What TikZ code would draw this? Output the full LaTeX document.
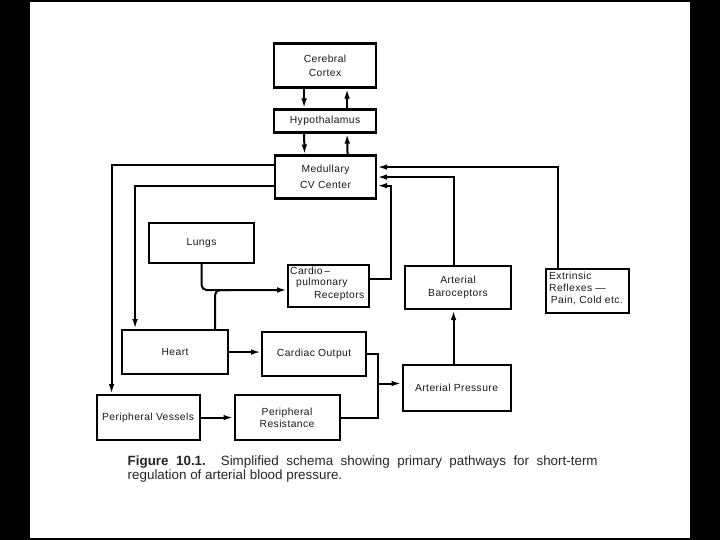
\documentclass[tikz,border=0pt]{standalone}
\usepackage{fontspec}
\setmainfont{Liberation Sans}
\newfontfamily\boxfont[LetterSpace=4]{Liberation Sans}
\usetikzlibrary{arrows.meta}
\begin{document}
\begin{tikzpicture}[x=1pt,y=-1pt,
  box/.style={draw, line width=2.1pt, inner sep=0pt, anchor=north west,
    font=\boxfont\fontsize{10.3}{14}\selectfont, align=center, text=black!90},
  lbl/.style={inner sep=0pt, font=\boxfont\fontsize{10.3}{12}\selectfont, text=black!90},
  conn/.style={line width=2pt},
  arr/.style={conn, -{Latex[length=10pt,width=5.6pt]}},
  captext/.style={inner sep=0pt, anchor=base west, font=\fontsize{13.4}{14}\selectfont, text=black!85}
]
\fill[black] (0,0) rectangle (720,540);
\fill[white] (30,2) rectangle (690,538);
\useasboundingbox (0,0) rectangle (720,540);

% boxes
\node[box, minimum width=102pt, minimum height=44pt] (cortex) at (273,42.5) {Cerebral\\Cortex};
\node[box, minimum width=102pt, minimum height=23pt] (hypo) at (273,108.5) {Hypothalamus};
\node[box, minimum width=101pt, minimum height=43pt] (med) at (274,154.5) {Medullary\\[2pt]CV Center};
\node[box, minimum width=105pt, minimum height=40pt] (lungs) at (148,222) {Lungs};
\node[box, minimum width=81pt, minimum height=42pt] (cardio) at (287,263.5) {};
\node[box, minimum width=106pt, minimum height=43pt] (baro) at (404,265) {Arterial\\[-0.6pt]Baroceptors};
\node[box, minimum width=83pt, minimum height=44pt] (extr) at (545,267.5) {};
\node[box, minimum width=106pt, minimum height=44pt] (heart) at (121,329) {Heart};
\node[box, minimum width=104pt, minimum height=44pt] (co) at (261,330.5) {Cardiac Output};
\node[box, minimum width=108pt, minimum height=46pt] (ap) at (401.5,364) {Arterial Pressure};
\node[box, minimum width=103pt, minimum height=45pt] (pv) at (95.5,394) {Peripheral Vessels};
\node[box, minimum width=105pt, minimum height=45pt, font=\boxfont\fontsize{10.3}{12}\selectfont] (pr) at (233.5,394) {Peripheral\\Resistance};

% staggered labels
\node[lbl, anchor=west] (cp1) at (290,270.7) {Cardio\,–};
\node[lbl, anchor=west] (cp2) at (296,282.7) {pulmonary};
\node[lbl, anchor=east] (cp3) at (364.5,296) {Receptors};
\node[lbl, anchor=west, align=left, font=\boxfont\fontsize{10.3}{11.7}\selectfont] (ex) at (549,288.3) {Extrinsic\\Reflexes —\\\,Pain, Cold etc.};

% connectors
\draw[arr] ([xshift=-21pt]cortex.south) -- ([xshift=-21pt]hypo.north);
\draw[arr] ([xshift=22pt]hypo.north) -- ([xshift=22pt]cortex.south);
\draw[arr] ([xshift=-21pt]hypo.south) -- ([xshift=-21pt]med.north);
\draw[arr] ([xshift=22pt]med.north) -- ([xshift=22pt]hypo.south);

\draw[arr] ([yshift=12.5pt]med.west) -| ([xshift=-36.5pt]pv.north);
\draw[arr] ([yshift=-8.5pt]med.west) -| ([xshift=-40pt]heart.north);

\draw[arr] ([xshift=-29.5pt]extr.north) |- ([yshift=10pt]med.east);
\draw[arr] ([xshift=-4pt]baro.north) |- (med.east);
\coordinate (c7) at (391,185.7);
\draw[arr] ([yshift=7pt]cardio.east) -| (c7) -- (c7 -| med.east);

\coordinate (hj) at (230,290);
\draw[arr, rounded corners=5pt] (lungs.south) |- (cardio.west |- hj);
\draw[conn, rounded corners=5pt] ([xshift=40pt]heart.north) |- (hj);

\draw[arr] (heart.east) -- (co.west |- heart.east);
\draw[arr] (pv.east) -- (pr.west |- pv.east);
\coordinate (jx) at (378,383.5);
\draw[conn] (co.east) -| (jx) |- (pr.east);
\draw[arr] (jx) -- (jx -| ap.west);
\draw[arr] ([xshift=-3pt]ap.north) -- ([xshift=-3pt]ap.north |- baro.south);

% caption
\node[captext] (cap1) at (127.5,465.5) {\makebox[470pt][s]{\textbf{Figure 10.1.}\ \ Simplified schema showing primary pathways for short-term}};
\node[captext] (cap2) at (127.5,479.5) {regulation of arterial blood pressure.};
\end{tikzpicture}
\end{document}
